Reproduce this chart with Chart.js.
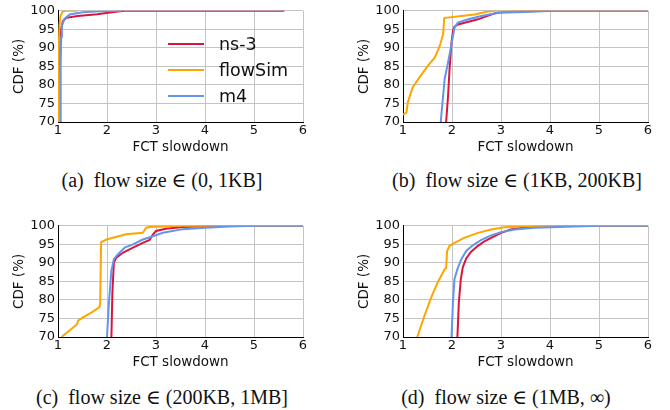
<!DOCTYPE html>
<html>
<head>
<meta charset="utf-8">
<script src="https://cdn.jsdelivr.net/npm/chart.js@4.4.1/dist/chart.umd.min.js"></script>
<style>
  body { margin: 0; background: #fff; }
  #wrap { position: relative; width: 670px; height: 410px; }
  .panel { position: absolute; width: 330px; height: 160px; }
  .cap { position: absolute; font-family: "Liberation Serif", "DejaVu Serif", serif; font-size: 20px; color: #111; white-space: pre; transform: translateX(-50%); }
</style>
</head>
<body>
<div id="wrap">
  <div class="panel" style="left:0;top:0"><canvas id="c0" width="330" height="160"></canvas></div>
  <div class="panel" style="left:345px;top:0"><canvas id="c1" width="330" height="160"></canvas></div>
  <div class="panel" style="left:0;top:215px"><canvas id="c2" width="330" height="160"></canvas></div>
  <div class="panel" style="left:345px;top:215px"><canvas id="c3" width="330" height="160"></canvas></div>
  <div class="cap" id="cap0" style="left:162px;top:168px"></div>
  <div class="cap" id="cap1" style="left:517px;top:168px"></div>
  <div class="cap" id="cap2" style="left:162px;top:385px"></div>
  <div class="cap" id="cap3" style="left:506px;top:385px"></div>
</div>
<script>
const seriesNames = ['ns-3', 'flowSim', 'm4'];
const seriesColors = ['#dc143c', '#ffa500', '#6495ed'];
const captions = ['(a)  flow size \u2208 (0, 1KB]', '(b)  flow size \u2208 (1KB, 200KB]',
                  '(c)  flow size \u2208 (200KB, 1MB]', '(d)  flow size \u2208 (1MB, \u221e)'];
const xTicks = [1, 2, 3, 4, 5, 6];
const yTicks = [70, 75, 80, 85, 90, 95, 100];

// (a) flow size (0, 1KB]
const aNs3X = [1.0, 1.01, 1.03, 1.06, 1.1, 1.17, 1.4, 1.8, 2.1, 2.35, 5.62];
const aNs3Y = [70, 80, 90, 95, 97.2, 98.1, 98.6, 99.1, 99.6, 100, 100];
const aFlowX = [1.0, 1.015, 1.03, 1.05, 1.09, 1.14, 1.4];
const aFlowY = [70, 90, 96, 98.6, 99.7, 100, 100];
const aM4X = [1.05, 1.055, 1.065, 1.08, 1.13, 1.24, 1.5, 1.85, 2.3];
const aM4Y = [70, 85, 93, 96, 97.8, 99.0, 99.6, 99.9, 100];

// (b) flow size (1KB, 200KB]
const bNs3X = [1.88, 1.92, 1.95, 1.99, 2.02, 2.05, 2.12, 2.53, 2.87, 3.0, 3.5, 4.0, 6];
const bNs3Y = [70, 77.1, 84.3, 91.4, 94.6, 95.7, 96.3, 97.7, 99.3, 99.6, 99.9, 100, 100];
const bFlowX = [1.0, 1.07, 1.1, 1.2, 1.34, 1.51, 1.65, 1.75, 1.82, 1.84, 1.86, 2.19, 2.46, 2.73, 2.85, 6];
const bFlowY = [72.0, 72.5, 75.4, 79.4, 82.1, 85.2, 87.4, 90.5, 93.7, 97.9, 98.1, 98.6, 99.0, 99.8, 100, 100];
const bM4X = [1.77, 1.85, 1.92, 1.99, 2.05, 2.12, 2.33, 2.6, 2.94, 3.5, 3.95, 6];
const bM4Y = [70, 81.6, 86.1, 91.0, 95.4, 96.8, 97.7, 98.6, 99.5, 99.7, 99.95, 100];

// (c) flow size (200KB, 1MB]
const cNs3X = [2.09, 2.11, 2.14, 2.19, 2.33, 2.53, 2.73, 2.87, 2.94, 3.0, 3.2, 3.55, 4.0, 4.5, 6];
const cNs3Y = [70, 82, 90, 91.4, 92.8, 94.1, 95.4, 96.2, 97.7, 98.6, 99.2, 99.7, 99.9, 100, 100];
const cFlowX = [1.07, 1.24, 1.34, 1.39, 1.41, 1.51, 1.68, 1.84, 1.86, 1.88, 1.99, 2.39, 2.73, 2.80, 2.87, 3.2, 3.5, 6];
const cFlowY = [70, 71.8, 72.9, 73.5, 74.4, 75.3, 76.6, 78.0, 78.9, 95.6, 96.3, 97.7, 98.1, 99.5, 99.7, 99.9, 100, 100];
const cM4X = [2.0, 2.04, 2.09, 2.14, 2.22, 2.36, 2.53, 2.73, 2.94, 3.14, 3.55, 4.0, 4.5, 5.0, 6];
const cM4Y = [70, 79.4, 87.9, 91.0, 92.3, 94.1, 95.0, 96.3, 97.2, 98.1, 99.1, 99.5, 99.8, 100, 100];

// (d) flow size (1MB, inf)
const dNs3X = [2.11, 2.14, 2.18, 2.22, 2.29, 2.39, 2.53, 2.67, 2.87, 3.0, 3.2, 3.55, 4.0, 4.5, 6];
const dNs3Y = [70, 79.4, 85.6, 88.8, 91.2, 93.0, 94.6, 95.9, 97.2, 98.1, 99.0, 99.7, 99.9, 100, 100];
const dFlowX = [1.29, 1.44, 1.58, 1.71, 1.85, 1.88, 1.90, 1.95, 2.05, 2.26, 2.53, 2.80, 3.07, 3.5, 4.1, 6];
const dFlowY = [70, 75.8, 80.8, 84.8, 88.3, 88.5, 93.2, 94.6, 95.4, 96.8, 98.1, 99.0, 99.6, 99.85, 100, 100];
const dM4X = [1.99, 2.02, 2.05, 2.11, 2.19, 2.29, 2.43, 2.6, 2.8, 3.0, 3.28, 3.69, 4.5, 5.0, 6];
const dM4Y = [70, 79.4, 85.6, 88.3, 91.0, 93.2, 94.8, 96.2, 97.4, 98.3, 99.0, 99.5, 99.8, 100, 100];

const panels = [
  [[aNs3X, aNs3Y], [aFlowX, aFlowY], [aM4X, aM4Y]],
  [[bNs3X, bNs3Y], [bFlowX, bFlowY], [bM4X, bM4Y]],
  [[cNs3X, cNs3Y], [cFlowX, cFlowY], [cM4X, cM4Y]],
  [[dNs3X, dNs3Y], [dFlowX, dFlowY], [dM4X, dM4Y]]
];

const tickFont = { family: 'DejaVu Sans', size: 13 };
const titleFont = { family: 'DejaVu Sans', size: 13.5 };
const gridColor = '#c4c4c4';

// legend drawn inside the first panel
const insideLegend = {
  id: 'insideLegend',
  afterDraw(chart, args, opts) {
    if (!opts.show) return;
    const ctx = chart.ctx;
    ctx.save();
    ctx.font = '17.5px "DejaVu Sans"';
    ctx.textBaseline = 'middle';
    chart.data.datasets.forEach(function(ds, i) {
      const y = 44 + i * 26;
      ctx.strokeStyle = ds.borderColor;
      ctx.lineWidth = 2;
      ctx.beginPath();
      ctx.moveTo(168, y);
      ctx.lineTo(204, y);
      ctx.stroke();
      ctx.fillStyle = '#111';
      ctx.fillText(ds.label, 219, y + 1);
    });
    ctx.restore();
  }
};

panels.forEach(function(series, p) {
  document.getElementById('cap' + p).textContent = captions[p];
  const datasets = series.map(function(s, i) {
    return {
      label: seriesNames[i],
      data: s[0].map(function(x, k) { return { x: x, y: s[1][k] }; }),
      borderColor: seriesColors[i],
      borderWidth: 2,
      pointRadius: 0,
      showLine: true,
      fill: false,
      tension: 0,
      order: 2 - i
    };
  });

  new Chart(document.getElementById('c' + p), {
    type: 'scatter',
    data: { datasets: datasets },
    options: {
      responsive: false,
      animation: false,
      layout: { padding: { top: 9, right: 27, bottom: 0, left: 0 } },
      plugins: {
        legend: { display: false },
        tooltip: { enabled: false },
        insideLegend: { show: p === 0 }
      },
      scales: {
        x: {
          type: 'linear',
          min: 1, max: 6,
          afterBuildTicks: function(scale) { scale.ticks = xTicks.map(function(v) { return { value: v }; }); },
          afterFit: function(scale) { scale.height = 38; },
          ticks: { font: tickFont, color: '#111', padding: 1, maxRotation: 0, autoSkip: false },
          grid: { color: gridColor, drawTicks: false },
          border: { color: '#000', width: 1 },
          title: { display: true, text: 'FCT slowdown', font: titleFont, color: '#111', padding: { top: 0, bottom: 4 } }
        },
        y: {
          min: 70, max: 100,
          afterBuildTicks: function(scale) { scale.ticks = yTicks.map(function(v) { return { value: v }; }); },
          afterFit: function(scale) { scale.width = 58; },
          ticks: { font: tickFont, color: '#111', padding: 3, autoSkip: false },
          grid: { color: gridColor, drawTicks: false },
          border: { color: '#000', width: 1 },
          title: { display: true, text: 'CDF (%)', font: titleFont, color: '#111', padding: { top: 11, bottom: 0 } }
        }
      }
    },
    plugins: [insideLegend]
  });
});
</script>
</body>
</html>
